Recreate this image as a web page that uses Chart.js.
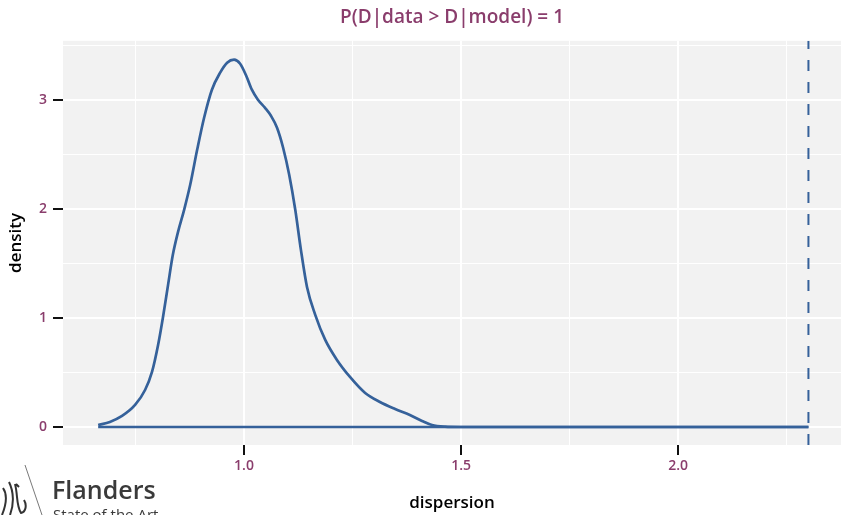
<!DOCTYPE html>
<html>
<head>
<meta charset="utf-8">
<script src="https://cdn.jsdelivr.net/npm/chart.js@4.4.1/dist/chart.umd.min.js"></script>
<style>
  html, body { margin: 0; padding: 0; background: #ffffff; }
  #wrap { width: 841px; height: 515px; }
</style>
</head>
<body>
<div id="wrap"><canvas id="myChart" width="841" height="515"></canvas></div>
<script>
// density of simulated dispersion values
var dispersion = [0.664, 0.691, 0.719, 0.749, 0.772, 0.788, 0.802, 0.813, 0.825, 0.836, 0.848, 0.862,
    0.876, 0.892, 0.908, 0.926, 0.945, 0.961, 0.977, 0.991, 1.005, 1.018, 1.032, 1.048, 1.062, 1.076,
    1.090, 1.104, 1.118, 1.131, 1.145, 1.164, 1.187, 1.214, 1.244, 1.279, 1.313, 1.348, 1.382, 1.410,
    1.433, 1.463, 1.498, 2.30];
var density = [0.018, 0.046, 0.101, 0.202, 0.339, 0.505, 0.752, 1.0, 1.303, 1.578, 1.789, 1.991,
    2.220, 2.541, 2.835, 3.092, 3.248, 3.339, 3.367, 3.330, 3.220, 3.092, 3.000, 2.927, 2.853, 2.743,
    2.560, 2.312, 1.991, 1.624, 1.284, 1.028, 0.798, 0.615, 0.459, 0.312, 0.229, 0.165, 0.110, 0.055,
    0.018, 0.003, 0, 0];

// observed dispersion of the data
var observed = 2.30;

var xTicks = [0.75, 1.0, 1.25, 1.5, 1.75, 2.0, 2.25];
var xLabels = ['', '1.0', '', '1.5', '', '2.0', ''];
var yTicks = [0, 0.5, 1, 1.5, 2, 2.5, 3, 3.5];
var yLabels = ['0', '', '1', '', '2', '', '3', ''];

var xRange = [0.583, 2.375];
var yRange = [-0.165, 3.54];

var blue = '#35619A';
var purple = '#8A3D6C';
var fontName = '"Open Sans", "DejaVu Sans", sans-serif';

var curve = [];
for (var i = 0; i < dispersion.length; i++) {
    curve.push({ x: dispersion[i], y: density[i] });
}
var baseline = [{ x: dispersion[0], y: 0 }, { x: observed, y: 0 }];
var vline = [{ x: observed, y: yRange[0] }, { x: observed, y: yRange[1] }];

function isMajor(list, v) {
    var idx = list.indexOf(v);
    return idx >= 0 && (list === xTicks ? xLabels[idx] !== '' : yLabels[idx] !== '');
}

var panelPlugin = {
    id: 'panel',
    beforeDraw: function(chart) {
        var a = chart.chartArea;
        var c = chart.ctx;
        c.save();
        c.fillStyle = '#F2F2F2';
        c.fillRect(a.left, a.top, a.right - a.left, a.bottom - a.top);
        c.restore();
    },
    afterDraw: function(chart) {
        // Flanders logo in the corner
        var c = chart.ctx;
        c.save();
        c.strokeStyle = '#555';
        c.lineWidth = 0.8;
        c.beginPath();
        c.moveTo(25, 465);
        c.lineTo(42, 515);
        c.stroke();

        c.strokeStyle = '#333';
        c.lineWidth = 2;
        c.beginPath();
        c.moveTo(3, 488);
        c.bezierCurveTo(8, 495, 6, 505, 2, 515);
        c.moveTo(9, 482);
        c.bezierCurveTo(14, 492, 14, 505, 10, 515);
        c.moveTo(15, 484);
        c.bezierCurveTo(18, 495, 16, 505, 21, 513);
        c.bezierCurveTo(26, 512, 27, 505, 24, 500);
        c.moveTo(16, 484);
        c.lineTo(19, 487);
        c.stroke();

        c.fillStyle = '#3a3a3a';
        c.textBaseline = 'alphabetic';
        c.textAlign = 'left';
        c.font = '600 25px ' + fontName;
        c.fillText('Flanders', 52, 499);
        c.font = '15px ' + fontName;
        c.fillText('State of the Art', 53, 520);
        c.restore();
    }
};

var ctx = document.getElementById('myChart').getContext('2d');
var chart = new Chart(ctx, {
    type: 'scatter',
    data: {
        datasets: [{
            label: 'density',
            data: curve,
            showLine: true,
            borderColor: blue,
            borderWidth: 2.7,
            pointRadius: 0,
            cubicInterpolationMode: 'monotone'
        }, {
            label: 'baseline',
            data: baseline,
            showLine: true,
            borderColor: blue,
            borderWidth: 2.7,
            pointRadius: 0
        }, {
            label: 'observed',
            data: vline,
            showLine: true,
            borderColor: blue,
            borderWidth: 2,
            borderDash: [11, 11],
            pointRadius: 0
        }]
    },
    options: {
        responsive: false,
        animation: false,
        layout: { padding: { top: 0, right: 0, bottom: 0, left: 0 } },
        plugins: {
            legend: { display: false },
            tooltip: { enabled: false },
            title: {
                display: true,
                fullSize: false,
                text: 'P(D|data > D|model) = 1',
                color: purple,
                font: { family: fontName, size: 19, weight: '600' },
                padding: { top: 6, bottom: 12 }
            }
        },
        scales: {
            x: {
                type: 'linear',
                min: xRange[0],
                max: xRange[1],
                afterBuildTicks: function(scale) {
                    scale.ticks = xTicks.map(function(v) { return { value: v }; });
                },
                afterFit: function(scale) { scale.height = 70; },
                border: { display: false },
                grid: {
                    color: '#FFFFFF',
                    lineWidth: function(c) { return isMajor(xTicks, c.tick.value) ? 2 : 1; },
                    tickColor: function(c) { return isMajor(xTicks, c.tick.value) ? '#111' : 'rgba(0,0,0,0)'; },
                    tickWidth: 2,
                    tickLength: 10
                },
                ticks: {
                    autoSkip: false,
                    maxRotation: 0,
                    padding: 3,
                    color: purple,
                    font: { family: fontName, size: 14, weight: '600' },
                    callback: function(v) {
                        var idx = xTicks.indexOf(v);
                        return idx >= 0 ? xLabels[idx] : '';
                    }
                },
                title: {
                    display: true,
                    text: 'dispersion',
                    color: '#000',
                    font: { family: fontName, size: 17, weight: '600' },
                    padding: { top: 0, bottom: 2 }
                }
            },
            y: {
                type: 'linear',
                min: yRange[0],
                max: yRange[1],
                afterBuildTicks: function(scale) {
                    scale.ticks = yTicks.map(function(v) { return { value: v }; });
                },
                afterFit: function(scale) { scale.width = 63; },
                border: { display: false },
                grid: {
                    color: '#FFFFFF',
                    lineWidth: function(c) { return isMajor(yTicks, c.tick.value) ? 2 : 1; },
                    tickColor: function(c) { return isMajor(yTicks, c.tick.value) ? '#111' : 'rgba(0,0,0,0)'; },
                    tickWidth: 2,
                    tickLength: 10
                },
                ticks: {
                    autoSkip: false,
                    padding: 6,
                    color: purple,
                    font: { family: fontName, size: 14, weight: '600' },
                    callback: function(v) {
                        var idx = yTicks.indexOf(v);
                        return idx >= 0 ? yLabels[idx] : '';
                    }
                },
                title: {
                    display: true,
                    text: 'density',
                    color: '#000',
                    font: { family: fontName, size: 17, weight: '600' },
                    padding: { top: 6, bottom: 0 }
                }
            }
        }
    },
    plugins: [panelPlugin]
});
</script>
</body>
</html>
